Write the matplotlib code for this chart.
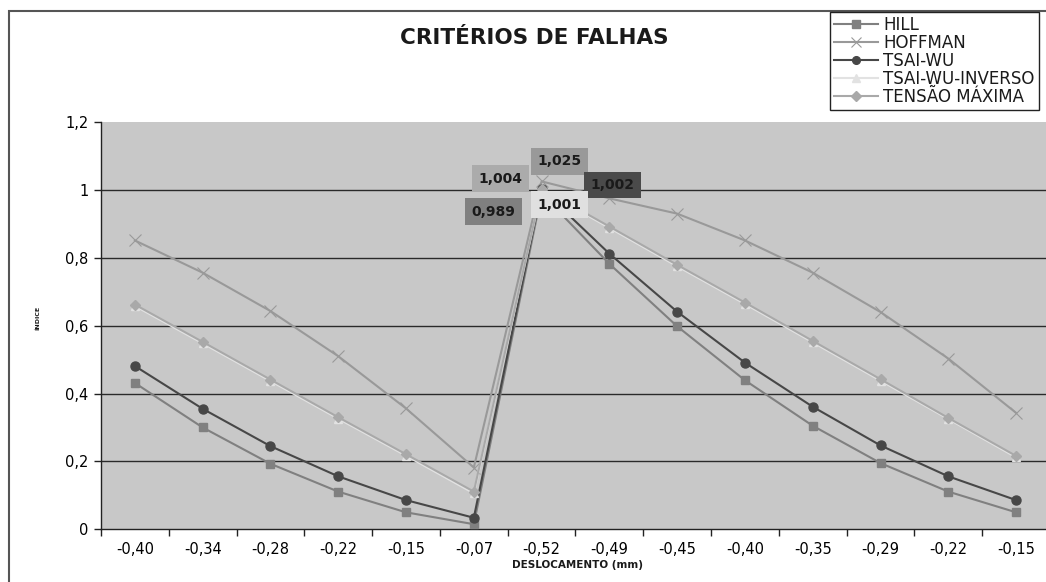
import matplotlib
matplotlib.use("Agg")
import matplotlib.pyplot as plt
from matplotlib.patches import Rectangle
import numpy as np

categories = ['-0,40', '-0,34', '-0,28', '-0,22', '-0,15', '-0,07', '-0,52',
              '-0,49', '-0,45', '-0,40', '-0,35', '-0,29', '-0,22', '-0,15']
hill = [0.431, 0.300, 0.193, 0.111, 0.050, 0.015, 0.989,
        0.782, 0.598, 0.439, 0.305, 0.195, 0.111, 0.050]
hoffman = [0.851, 0.756, 0.643, 0.510, 0.356, 0.182, 1.025,
           0.975, 0.930, 0.851, 0.756, 0.640, 0.503, 0.343]
tsaiwu = [0.481, 0.355, 0.245, 0.156, 0.086, 0.034, 1.002,
          0.812, 0.641, 0.491, 0.361, 0.247, 0.156, 0.086]
inverso = [0.658, 0.548, 0.437, 0.326, 0.217, 0.106, 1.001,
           0.888, 0.775, 0.664, 0.551, 0.438, 0.325, 0.212]
tensao = [0.662, 0.552, 0.441, 0.330, 0.221, 0.111, 1.004,
          0.892, 0.779, 0.668, 0.555, 0.442, 0.328, 0.216]
series_names = ['HILL', 'HOFFMAN', 'TSAI-WU', 'TSAI-WU-INVERSO', 'TENSÃO MÁXIMA']
peak_labels = ['0,989', '1,025', '1,002', '1,001', '1,004']

plt.rcParams['font.family'] = ['DejaVu Sans']

W, H = 1046, 582
fig = plt.figure(figsize=(W / 100, H / 100), dpi=100)
fig.patch.set_facecolor('white')

# outer chart border
fig.patches.append(Rectangle((9 / W, -0.1), 1.2, (H - 11) / H + 0.1,
                             transform=fig.transFigure, fill=False,
                             edgecolor='#555555', linewidth=1.5))

ax_left, ax_right, ax_top, ax_bottom = 101, 1050, 122, 529.3
ax = fig.add_axes([ax_left / W, (H - ax_bottom) / H,
                   (ax_right - ax_left) / W, (ax_bottom - ax_top) / H])
ax.set_facecolor('#c8c8c8')

x = np.arange(len(categories))
styles = [
    dict(color='#808080', marker='s', markersize=6, lw=1.5),
    dict(color='#999999', marker='x', markersize=8.5, lw=1.5, mew=0.8),
    dict(color='#474747', marker='o', markersize=6.5, lw=1.5),
    dict(color='#e2e2e2', marker='^', markersize=6, lw=1.5),
    dict(color='#a9a9a9', marker='D', markersize=5.5, lw=1.5),
]
data = [hill, hoffman, tsaiwu, inverso, tensao]
lines = []
for name, vals, st in zip(series_names, data, styles):
    ln, = ax.plot(x, vals, label=name, zorder=3, **st)
    lines.append(ln)

ax.set_xlim(-0.5, len(categories) - 0.5)
ax.set_ylim(0, 1.2)
ax.set_yticks([0, 0.2, 0.4, 0.6, 0.8, 1.0, 1.2])
ax.set_yticklabels(['0', '0,2', '0,4', '0,6', '0,8', '1', '1,2'], fontsize=10.5)
ax.set_xticks(x)
ax.set_xticklabels(categories, fontsize=10.5)
ax.tick_params(axis='x', which='major', length=0, pad=9)
ax.set_xticks(np.arange(-0.5, len(categories), 1), minor=True)
ax.tick_params(axis='x', which='minor', length=5, width=1, color='#222222')
ax.tick_params(axis='y', length=5, width=1, color='#222222', pad=4)
for yv in [0.2, 0.4, 0.6, 0.8, 1.0]:
    ax.axhline(yv, color='#2a2a2a', lw=1.0, zorder=1)
for s in ['top', 'right']:
    ax.spines[s].set_visible(False)
for s in ['left', 'bottom']:
    ax.spines[s].set_color('#222222')
    ax.spines[s].set_linewidth(1.0)

# peak labels
box_colors = ['#808080', '#999999', '#4a4a4a', '#e0e0e0', '#ababab']
offsets = [(-48, -18), (18, 20), (71, 4), (18, -15), (-41, 10)]
peak_idx = 6
for vals, lab, bc, off in zip(data, peak_labels, box_colors, offsets):
    ax.annotate(lab, xy=(peak_idx, vals[peak_idx]), xytext=off,
                textcoords='offset pixels', ha='center', va='center',
                fontsize=10, fontweight='bold', color='#1a1a1a', zorder=5,
                bbox=dict(boxstyle='square,pad=0.45', fc=bc, ec='none'))

fig.text(534 / W, 1 - 38 / H, 'CRITÉRIOS DE FALHAS', ha='center', va='center',
         fontsize=15.5, fontweight='bold', color='#1a1a1a')
fig.text(577 / W, 1 - 565 / H, 'DESLOCAMENTO (mm)', ha='center', va='center',
         fontsize=7.5, fontweight='bold', color='#1a1a1a')
fig.text(38 / W, 1 - 318 / H, 'ÍNDICE', ha='center', va='center', rotation=90,
         fontsize=4.5, fontweight='bold', color='#1a1a1a')

leg = fig.legend(handles=lines, labels=series_names, loc='upper right',
                 bbox_to_anchor=(1039 / W, 1 - 12 / H), fontsize=12,
                 frameon=True, fancybox=False, edgecolor='#222222',
                 framealpha=1, facecolor='white', labelspacing=0.0,
                 handlelength=2.6, handletextpad=0.35, borderpad=0.25,
                 borderaxespad=0, markerscale=0.85)
leg.get_frame().set_linewidth(1.0)
for t in leg.get_texts():
    t.set_color('#1a1a1a')

fig.savefig('out.png', dpi=100, facecolor='white')
